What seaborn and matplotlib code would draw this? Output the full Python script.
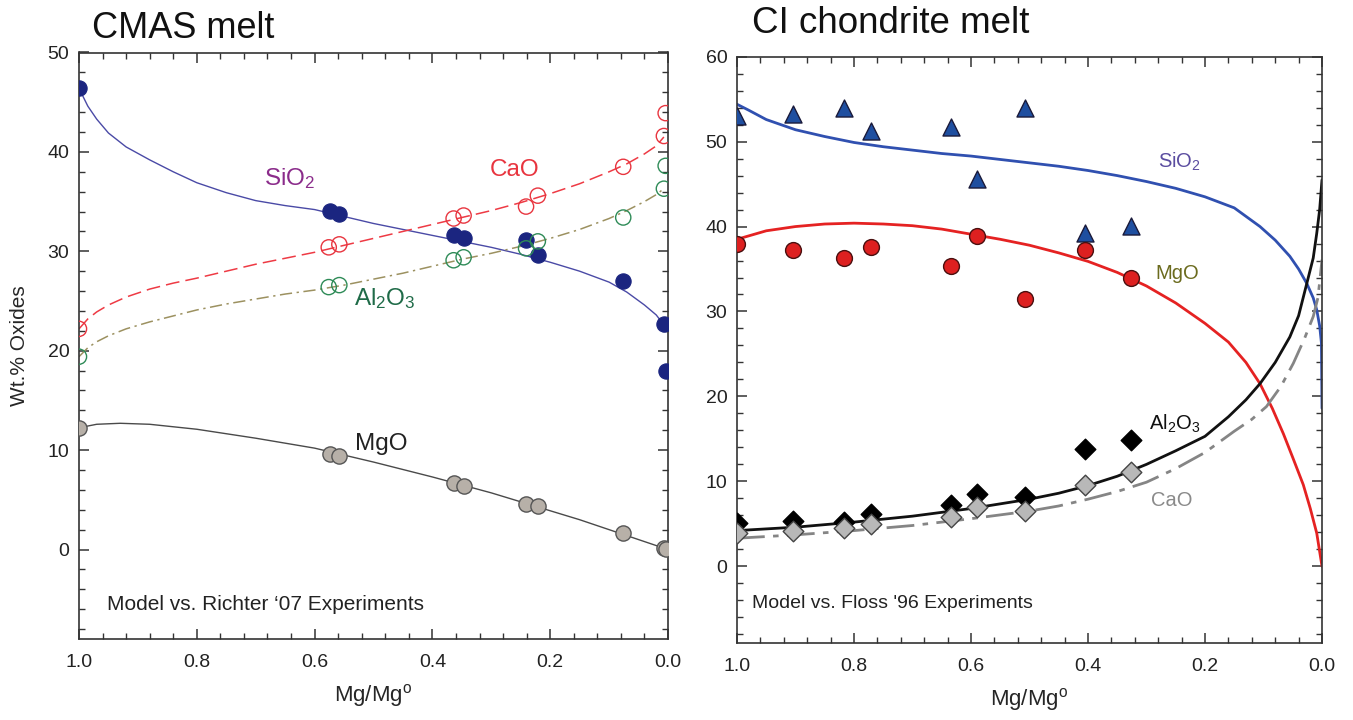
import numpy as np
import matplotlib
matplotlib.use("Agg")
import matplotlib.pyplot as plt
from matplotlib.ticker import MultipleLocator
import seaborn as sns

# ---------------- CMAS melt (left) ----------------
cmas_x = [1.0, 0.574, 0.558, 0.364, 0.347, 0.241, 0.220, 0.076, 0.007, 0.003]
cmas_sio2 = [46.4, 34.1, 33.8, 31.6, 31.3, 31.1, 29.6, 27.0, 22.7, 18.0]
cmas_mgo = [12.25, 9.6, 9.4, 6.7, 6.4, 4.6, 4.4, 1.7, 0.17, 0.07]
cmas_cao_x = [1.0, 0.576, 0.558, 0.364, 0.347, 0.241, 0.221, 0.076, 0.007, 0.004]
cmas_cao = [22.2, 30.4, 30.7, 33.3, 33.6, 34.5, 35.6, 38.5, 41.6, 43.9]
cmas_al2o3 = [19.4, 26.4, 26.6, 29.1, 29.4, 30.3, 31.0, 33.4, 36.3, 38.6]

# model curves
m_x = [1.0, 0.985, 0.97, 0.95, 0.92, 0.88, 0.84, 0.80, 0.75, 0.70, 0.65, 0.60,
       0.55, 0.50, 0.45, 0.40, 0.35, 0.30, 0.25, 0.20, 0.15, 0.10, 0.07, 0.04,
       0.02, 0.007]
m_sio2 = [46.4, 44.6, 43.3, 41.9, 40.5, 39.2, 38.0, 36.9, 35.9, 35.1, 34.6, 34.2,
          33.5, 32.8, 32.2, 31.6, 31.0, 30.4, 29.7, 28.9, 28.0, 26.9, 25.9, 24.6,
          23.6, 22.6]
m_cao = [22.2, 23.2, 23.9, 24.6, 25.4, 26.2, 26.8, 27.3, 28.0, 28.7, 29.3, 29.9,
         30.6, 31.3, 32.0, 32.7, 33.4, 34.1, 34.9, 35.8, 36.8, 38.0, 38.8, 39.8,
         40.6, 41.5]
m_al2o3 = [19.4, 20.3, 20.9, 21.5, 22.2, 22.9, 23.5, 24.1, 24.7, 25.2, 25.7, 26.1,
           26.6, 27.2, 27.8, 28.5, 29.2, 29.8, 30.5, 31.3, 32.2, 33.3, 34.1, 35.0,
           35.7, 36.3]
mg_x = [1.0, 0.97, 0.93, 0.88, 0.80, 0.70, 0.60, 0.55, 0.50, 0.40, 0.35, 0.30,
        0.25, 0.20, 0.15, 0.10, 0.05, 0.0]
m_mgo = [12.25, 12.6, 12.7, 12.6, 12.1, 11.2, 10.2, 9.5, 8.8, 7.3, 6.5, 5.7,
         4.8, 3.9, 3.0, 2.0, 1.0, 0.0]

# ---------------- CI chondrite melt (right) ----------------
ci_x = [1.0, 0.905, 0.817, 0.771, 0.634, 0.590, 0.508, 0.405, 0.326]
ci_sio2 = [53.0, 53.2, 54.0, 51.3, 51.7, 45.6, 54.0, 39.3, 40.1]
ci_mgo = [38.0, 37.2, 36.3, 37.6, 35.4, 38.9, 31.5, 37.2, 34.0]
ci_al2o3 = [5.1, 5.3, 5.2, 6.1, 7.2, 8.5, 8.2, 13.8, 14.9]
ci_cao = [3.9, 4.2, 4.5, 5.0, 5.8, 7.0, 6.5, 9.6, 11.1]

c_sio2_x = [1.0, 0.98, 0.95, 0.90, 0.85, 0.80, 0.75, 0.70, 0.65, 0.60, 0.55,
            0.50, 0.45, 0.40, 0.35, 0.30, 0.25, 0.20, 0.15, 0.106, 0.08, 0.055,
            0.04, 0.026, 0.015, 0.009, 0.004, 0.001, 0.0]
c_sio2 = [54.4, 53.7, 52.6, 51.4, 50.6, 49.9, 49.4, 49.0, 48.6, 48.3, 47.9,
          47.5, 47.1, 46.6, 46.0, 45.3, 44.5, 43.5, 42.2, 40.0, 38.4, 36.5,
          35.0, 33.3, 31.6, 30.2, 28.3, 26.3, 18.6]
c_mgo_x = [1.0, 0.95, 0.90, 0.85, 0.80, 0.75, 0.70, 0.65, 0.60, 0.55, 0.50,
           0.45, 0.40, 0.35, 0.30, 0.25, 0.20, 0.16, 0.13, 0.106, 0.085, 0.066,
           0.05, 0.032, 0.02, 0.009, 0.0]
c_mgo = [38.5, 39.5, 40.0, 40.3, 40.4, 40.3, 40.1, 39.7, 39.1, 38.5, 37.8,
         36.9, 35.9, 34.6, 33.0, 31.0, 28.6, 26.4, 24.0, 21.5, 18.6, 15.6,
         12.8, 9.6, 6.8, 3.9, 0.0]
c_al_x = [1.0, 0.90, 0.80, 0.70, 0.60, 0.50, 0.45, 0.40, 0.35, 0.30, 0.25,
          0.20, 0.16, 0.13, 0.106, 0.08, 0.055, 0.04, 0.026, 0.015, 0.009,
          0.004, 0.0]
c_al2o3 = [4.2, 4.6, 5.2, 5.9, 6.8, 7.9, 8.6, 9.5, 10.6, 12.0, 13.6,
           15.3, 17.6, 19.6, 21.5, 24.0, 27.0, 29.5, 33.3, 36.3, 39.2,
           42.0, 45.5]
c_cao_x = [1.0, 0.90, 0.80, 0.70, 0.60, 0.50, 0.45, 0.40, 0.35, 0.30, 0.25,
           0.20, 0.15, 0.12, 0.095, 0.07, 0.049, 0.03, 0.015, 0.007, 0.003, 0.0]
c_cao = [3.3, 3.7, 4.2, 4.8, 5.6, 6.5, 7.1, 7.9, 8.8, 9.9, 11.5,
         13.4, 15.9, 17.3, 18.8, 21.2, 23.9, 26.8, 29.4, 31.6, 34.1, 36.1]

sns.set_theme(style="ticks")
plt.rcParams["font.family"] = ["Liberation Sans", "DejaVu Sans"]
plt.rcParams["mathtext.default"] = "regular"

fig = plt.figure(figsize=(13.53, 7.2), dpi=100)
ax1 = fig.add_axes([79 / 1353, 1 - 639 / 720, 589 / 1353, 586.5 / 720])
ax2 = fig.add_axes([737 / 1353, 1 - 642.7 / 720, 585 / 1353, 586 / 720])


def style_axis(ax, ymax):
    ax.set_xlim(1.0, 0.0)
    ax.set_ylim(-9, ymax)
    ax.set_xticks([1.0, 0.8, 0.6, 0.4, 0.2, 0.0])
    ax.set_xticklabels(["1.0", "0.8", "0.6", "0.4", "0.2", "0.0"])
    ax.set_yticks(list(range(0, ymax + 1, 10)))
    ax.xaxis.set_minor_locator(MultipleLocator(0.04))
    ax.yaxis.set_minor_locator(MultipleLocator(2))
    ax.tick_params(which="both", direction="in", top=True, right=True,
                   colors="#333333", labelcolor="#222222", labelsize=14)
    ax.tick_params(which="major", length=7, width=1.1)
    ax.tick_params(which="minor", length=4, width=1.0)
    ax.tick_params(axis="x", pad=11)
    ax.tick_params(axis="y", pad=7)
    for s in ax.spines.values():
        s.set_color("#333333")
        s.set_linewidth(1.2)
    ax.set_xlabel("Mg/Mg$^{o}$", fontsize=16, labelpad=8)


# ---- left panel
sns.lineplot(x=m_x, y=m_sio2, ax=ax1, color="#4a4aa6", lw=1.0, estimator=None, sort=False)
sns.lineplot(x=m_x, y=m_cao, ax=ax1, color="#ee3a44", lw=1.1, estimator=None, sort=False,
             linestyle=(0, (9, 4)))
sns.lineplot(x=m_x, y=m_al2o3, ax=ax1, color="#9c9160", lw=1.1, estimator=None, sort=False,
             linestyle=(0, (8, 3, 1.5, 3)))
sns.lineplot(x=mg_x, y=m_mgo, ax=ax1, color="#4a4a4a", lw=1.0, estimator=None, sort=False)

sns.scatterplot(x=cmas_x, y=cmas_sio2, ax=ax1, color="#1b2580", edgecolor="#1b2580",
                s=120, zorder=5)
sns.scatterplot(x=cmas_x, y=cmas_mgo, ax=ax1, color="#b7b0a8", edgecolor="#555555",
                linewidth=1.0, s=120, zorder=5)
sns.scatterplot(x=cmas_cao_x, y=cmas_cao, ax=ax1, facecolor="none", edgecolor="#e8353f",
                linewidth=1.0, s=120, zorder=5)
sns.scatterplot(x=cmas_cao_x, y=cmas_al2o3, ax=ax1, facecolor="none", edgecolor="#2e8b57",
                linewidth=1.0, s=120, zorder=5)

ax1.text(0.642, 37.3, "SiO$_2$", color="#8b2c8b", fontsize=17.5, ha="center", va="center")
ax1.text(0.26, 38.2, "CaO", color="#e8353f", fontsize=17.5, ha="center", va="center")
ax1.text(0.48, 25.2, "Al$_2$O$_3$", color="#1f6b48", fontsize=17.5, ha="center", va="center")
ax1.text(0.487, 10.6, "MgO", color="#222222", fontsize=17.5, ha="center", va="center")
ax1.text(0.952, -5.5, "Model vs. Richter \u201807 Experiments", fontsize=15,
         color="#222222", ha="left", va="center")
ax1.text(0.022, 1.025, "CMAS melt", transform=ax1.transAxes, fontsize=26,
         ha="left", va="baseline", color="#111111")
style_axis(ax1, 50)
ax1.set_ylabel("Wt.% Oxides", fontsize=15)
ax1.yaxis.set_label_coords(-0.085, 0.5)

# ---- right panel
sns.lineplot(x=c_sio2_x, y=c_sio2, ax=ax2, color="#3050b0", lw=2.0, estimator=None, sort=False)
sns.lineplot(x=c_mgo_x, y=c_mgo, ax=ax2, color="#e52222", lw=2.0, estimator=None, sort=False)
sns.lineplot(x=c_al_x, y=c_al2o3, ax=ax2, color="#111111", lw=2.0, estimator=None, sort=False)
sns.lineplot(x=c_cao_x, y=c_cao, ax=ax2, color="#858585", lw=2.0, estimator=None, sort=False,
             linestyle=(0, (10, 3, 2, 3)))

sns.scatterplot(x=ci_x, y=ci_sio2, ax=ax2, marker="^", color="#1f4fa0", edgecolor="#1a1a3a",
                linewidth=1.0, s=150, zorder=5)
sns.scatterplot(x=ci_x, y=ci_mgo, ax=ax2, marker="o", color="#dd2020", edgecolor="#4a1010",
                linewidth=1.0, s=130, zorder=5)
sns.scatterplot(x=ci_x, y=ci_al2o3, ax=ax2, marker="D", color="#000000", edgecolor="#000000",
                linewidth=1.0, s=110, zorder=5)
sns.scatterplot(x=ci_x, y=ci_cao, ax=ax2, marker="D", color="#b8b8b8", edgecolor="#444444",
                linewidth=1.0, s=110, zorder=6)

ax2.text(0.243, 47.6, "SiO$_2$", color="#5b4da0", fontsize=14.5, ha="center", va="center")
ax2.text(0.248, 34.5, "MgO", color="#6b6b1e", fontsize=14.5, ha="center", va="center")
ax2.text(0.251, 16.8, "Al$_2$O$_3$", color="#111111", fontsize=14.5, ha="center", va="center")
ax2.text(0.257, 7.8, "CaO", color="#8a8a8a", fontsize=14.5, ha="center", va="center")
ax2.text(0.974, -4.4, "Model vs. Floss '96 Experiments", fontsize=14,
         color="#222222", ha="left", va="center")
ax2.text(0.026, 1.04, "CI chondrite melt", transform=ax2.transAxes, fontsize=26.5,
         ha="left", va="baseline", color="#111111")
style_axis(ax2, 60)
ax2.set_ylabel("")

fig.savefig("out.png", dpi=100)
